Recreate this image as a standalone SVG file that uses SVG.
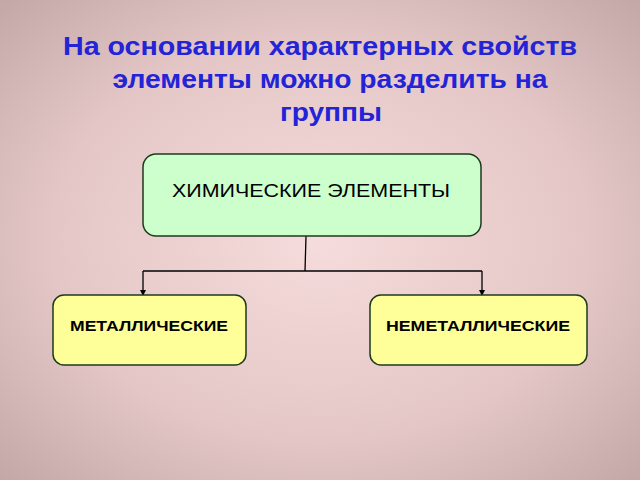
<svg xmlns="http://www.w3.org/2000/svg" width="640" height="480" viewBox="0 0 640 480">
<defs>
<radialGradient id="bg" cx="50%" cy="50%" r="70%">
<stop offset="0" stop-color="#f6dcdc"/>
<stop offset="0.6" stop-color="#e4c6c6"/>
<stop offset="1" stop-color="#c4a8a8"/>
</radialGradient>
<marker id="ar" viewBox="0 0 6 6" refX="5" refY="3" markerWidth="5" markerHeight="5" orient="auto"><path d="M0,0L6,3L0,6z" fill="#000"/></marker>
</defs>
<style>
.t{font-family:"Liberation Sans",Arial,sans-serif;font-weight:bold;fill:#2323d8;font-size:25px;text-anchor:middle}
.n{stroke:#1e3a1e;stroke-width:1.5}
.l{font-family:"Liberation Sans",Arial,sans-serif;fill:#000;text-anchor:middle}
.c{stroke:#000;stroke-width:1.3;fill:none}
</style>
<rect width="640" height="480" fill="url(#bg)"/>
<g id="title">
<text class="t" x="320" y="55" textLength="514" lengthAdjust="spacingAndGlyphs">На основании характерных свойств</text>
<text class="t" x="330" y="88" textLength="435" lengthAdjust="spacingAndGlyphs">элементы можно разделить на</text>
<text class="t" x="331" y="121" textLength="102" lengthAdjust="spacingAndGlyphs">группы</text>
</g>
<g id="connectors">
<path class="c" d="M306,236 L305,271"/>
<path class="c" d="M143,271 L482,271"/>
<path class="c" d="M143,271 L143,295" marker-end="url(#ar)"/>
<path class="c" d="M482,271 L482,295" marker-end="url(#ar)"/>
</g>
<g id="chem">
<rect class="n" x="143" y="154" width="338" height="82" rx="13" fill="#ccffcc"/>
<text class="l" x="311" y="197" font-size="18" textLength="278" lengthAdjust="spacingAndGlyphs">ХИМИЧЕСКИЕ ЭЛЕМЕНТЫ</text>
</g>
<g id="metal">
<rect class="n" x="53" y="295" width="193" height="70" rx="11" fill="#ffff99"/>
<text class="l" x="149" y="331" font-size="15" font-weight="bold" textLength="158" lengthAdjust="spacingAndGlyphs">МЕТАЛЛИЧЕСКИЕ</text>
</g>
<g id="nonmetal">
<rect class="n" x="370" y="295" width="217" height="70" rx="11" fill="#ffff99"/>
<text class="l" x="478" y="331" font-size="15" font-weight="bold" textLength="184" lengthAdjust="spacingAndGlyphs">НЕМЕТАЛЛИЧЕСКИЕ</text>
</g>
</svg>
